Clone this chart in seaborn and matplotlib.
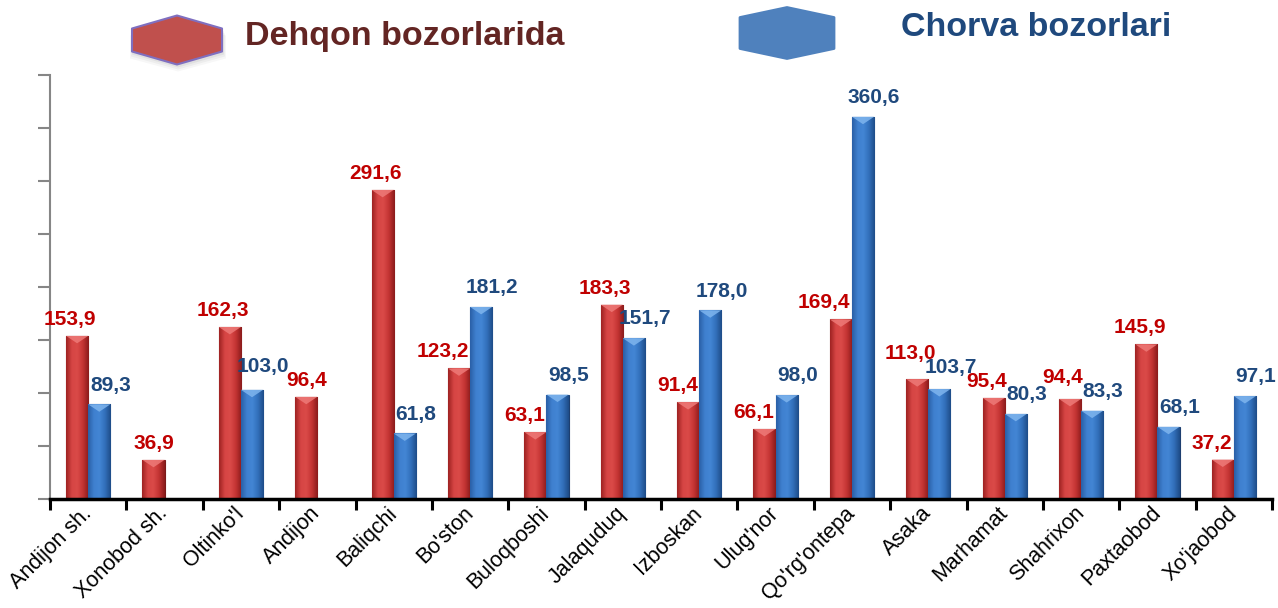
import numpy as np
import pandas as pd
import matplotlib
matplotlib.use("Agg")
import matplotlib.pyplot as plt
import seaborn as sns
from matplotlib.patches import Polygon
from matplotlib.colors import LinearSegmentedColormap

# ---------------- data ----------------
districts = ["Andijon sh.", "Xonobod sh.", "Oltinko'l", "Andijon", "Baliqchi", "Bo'ston",
             "Buloqboshi", "Jalaquduq", "Izboskan", "Ulug'nor", "Qo'rg'ontepa", "Asaka",
             "Marhamat", "Shahrixon", "Paxtaobod", "Xo'jaobod"]
dehqon = [153.9, 36.9, 162.3, 96.4, 291.6, 123.2, 63.1, 183.3, 91.4, 66.1, 169.4, 113.0,
          95.4, 94.4, 145.9, 37.2]
chorva = [89.3, np.nan, 103.0, np.nan, 61.8, 181.2, 98.5, 151.7, 178.0, 98.0, 360.6, 103.7,
          80.3, 83.3, 68.1, 97.1]
series_names = ["Dehqon bozorlarida", "Chorva bozorlari"]
y_ticks = list(range(0, 401, 50))

# ---------------- style ----------------
sns.set_theme(style="white")
plt.rcParams['font.family'] = ['Liberation Sans', 'DejaVu Sans']

RED = "#CF3B3A"
BLUE = "#3A78C6"
RED_TXT = "#C00000"
BLUE_TXT = "#1F497D"

df = pd.DataFrame({
    "district": districts * 2,
    "value": dehqon + chorva,
    "series": [series_names[0]] * len(districts) + [series_names[1]] * len(districts),
})

W, H = 1278, 608
fig = plt.figure(figsize=(W / 100, H / 100), dpi=100)
ax = fig.add_axes([50 / W, (H - 499) / H, (1272 - 50) / W, (499 - 75) / H])

sns.barplot(data=df, x="district", y="value", hue="series", order=districts,
            hue_order=series_names, palette=[RED, BLUE], saturation=1, width=0.58,
            errorbar=None, legend=False, ax=ax, linewidth=0.8, edgecolor="#5a1a1a")

ax.set_xlim(-0.5, len(districts) - 0.5)
ax.set_ylim(0, 400)

# gradients / bevels on bars
cmaps = [
    LinearSegmentedColormap.from_list("r", ["#9E2222", "#D64544", "#DA4A48", "#C23332", "#8A1B1B"]),
    LinearSegmentedColormap.from_list("b", ["#2A5FA6", "#3F80CF", "#4386D4", "#326FBA", "#1E4C88"]),
]
bevel_cols = ["#EE7A78", "#7FB5EE"]
edge_cols = ["#7A1A1A", "#1D3F70"]
grad = np.linspace(0, 1, 64).reshape(1, -1)
labels = []
for ci, cont in enumerate(ax.containers[:2]):
    for bar in cont:
        h = bar.get_height()
        if not np.isfinite(h) or h <= 0:
            continue
        x0 = bar.get_x()
        w = bar.get_width()
        cat = int(round(x0 + w if ci == 0 else x0))
        bar.set_edgecolor(edge_cols[ci])
        im = ax.imshow(grad, extent=[x0, x0 + w, 0, h], cmap=cmaps[ci], aspect="auto",
                       zorder=bar.get_zorder() + 0.1, interpolation="bicubic")
        im.set_clip_path(bar)
        tri = Polygon([(x0, h), (x0 + w, h), (x0 + w / 2, h - 7)], closed=True,
                      facecolor=bevel_cols[ci], edgecolor="none", alpha=0.85,
                      zorder=bar.get_zorder() + 0.2)
        ax.add_patch(tri)
        txt = f"{h:.1f}".replace(".", ",")
        other = chorva[cat]
        if ci == 0 and np.isfinite(other) and other > h:
            xy, ha, dx, dy = (x0 + w, h), "right", -1, 5
        elif ci == 0 and np.isfinite(other):
            xy, ha, dx, dy = (x0 + w / 2, h), "center", -5, 5
        elif ci == 0:
            xy, ha, dx, dy = (x0 + w / 2, h), "center", 0, 5
        else:
            xy, ha, dx, dy = (x0 + w / 2, h), "center", 8, 7
        ann = ax.annotate(txt, xy, xytext=(dx, dy), textcoords="offset points",
                          ha=ha, va="bottom", fontsize=15, fontweight="bold",
                          color=[RED_TXT, BLUE_TXT][ci], zorder=5)
        labels.append(ann)

ax.set_xlim(-0.5, len(districts) - 0.5)
ax.set_ylim(0, 400)

# axes styling
ax.set_xlabel("")
ax.set_ylabel("")
ax.set_yticks(y_ticks)
ax.set_yticklabels([])
ax.tick_params(axis="y", left=True, length=9, width=1.5, color="#868686", direction="out")
ax.set_xticks(range(len(districts)))
ax.set_xticks(np.arange(-0.5, len(districts), 1.0), minor=True)
ax.tick_params(axis="x", which="major", length=0, pad=8, labelsize=15.5, labelcolor="black")
ax.tick_params(axis="x", which="minor", bottom=True, length=8, width=2.2, color="black",
               direction="out")
for lab in ax.get_xticklabels():
    lab.set_rotation(45)
    lab.set_ha("right")
    lab.set_va("center")
    lab.set_rotation_mode("anchor")
for s in ["top", "right"]:
    ax.spines[s].set_visible(False)
ax.spines["left"].set_color("#868686")
ax.spines["left"].set_linewidth(1.5)
ax.spines["bottom"].set_color("black")
ax.spines["bottom"].set_linewidth(2.5)
ax.grid(False)

# resolve label collisions: push the upper of two overlapping labels further up
fig.canvas.draw()
renderer = fig.canvas.get_renderer()
SHRINK = 3
for _ in range(60):
    moved = False
    boxes = [a.get_window_extent(renderer) for a in labels]
    for i in range(len(labels)):
        for j in range(i + 1, len(labels)):
            bi, bj = boxes[i], boxes[j]
            if bi.x1 <= bj.x0 or bj.x1 <= bi.x0:
                continue
            if (bi.y1 - SHRINK) <= (bj.y0 + SHRINK) or (bj.y1 - SHRINK) <= (bi.y0 + SHRINK):
                continue
            up, low = (i, j) if bi.y0 >= bj.y0 else (j, i)
            need = boxes[low].y1 - SHRINK - (boxes[up].y0 + SHRINK) + 1
            dx, dy = labels[up].xyann
            labels[up].xyann = (dx, dy + need * 72 / fig.dpi)
            boxes[up] = labels[up].get_window_extent(renderer)
            moved = True
    if not moved:
        break


# legend (drawn as hexagon shapes + text)
def hexagon(cx, cy, w, h, shoulder):
    pts = [(cx - w / 2, cy - h / 2 + shoulder), (cx, cy - h / 2), (cx + w / 2, cy - h / 2 + shoulder),
           (cx + w / 2, cy + h / 2 - shoulder), (cx, cy + h / 2), (cx - w / 2, cy + h / 2 - shoulder)]
    return [(x / W, 1 - y / H) for x, y in pts]


for k, a in [(6, 0.03), (4, 0.04), (2, 0.05)]:
    fig.patches.append(Polygon(hexagon(178, 41 + k, 90 + k, 49, 13), closed=True,
                               transform=fig.transFigure, facecolor="#000000", alpha=a,
                               edgecolor="none", joinstyle="round"))
fig.patches.append(Polygon(hexagon(177, 40, 90, 49, 13), closed=True, transform=fig.transFigure,
                           facecolor="#C0504D", edgecolor="#7F6FC0", linewidth=1.5,
                           joinstyle="round"))
fig.patches.append(Polygon(hexagon(787, 33, 94, 51, 10), closed=True, transform=fig.transFigure,
                           facecolor="#4F81BD", edgecolor="#4F81BD", linewidth=2,
                           joinstyle="round"))
fig.text(245 / W, 1 - 37 / H, series_names[0], fontsize=24.5, fontweight="bold",
         color="#632523", ha="left", va="center")
fig.text(901 / W, 1 - 28 / H, series_names[1], fontsize=24.5, fontweight="bold",
         color="#1F497D", ha="left", va="center")

fig.savefig("out.png", dpi=100)
